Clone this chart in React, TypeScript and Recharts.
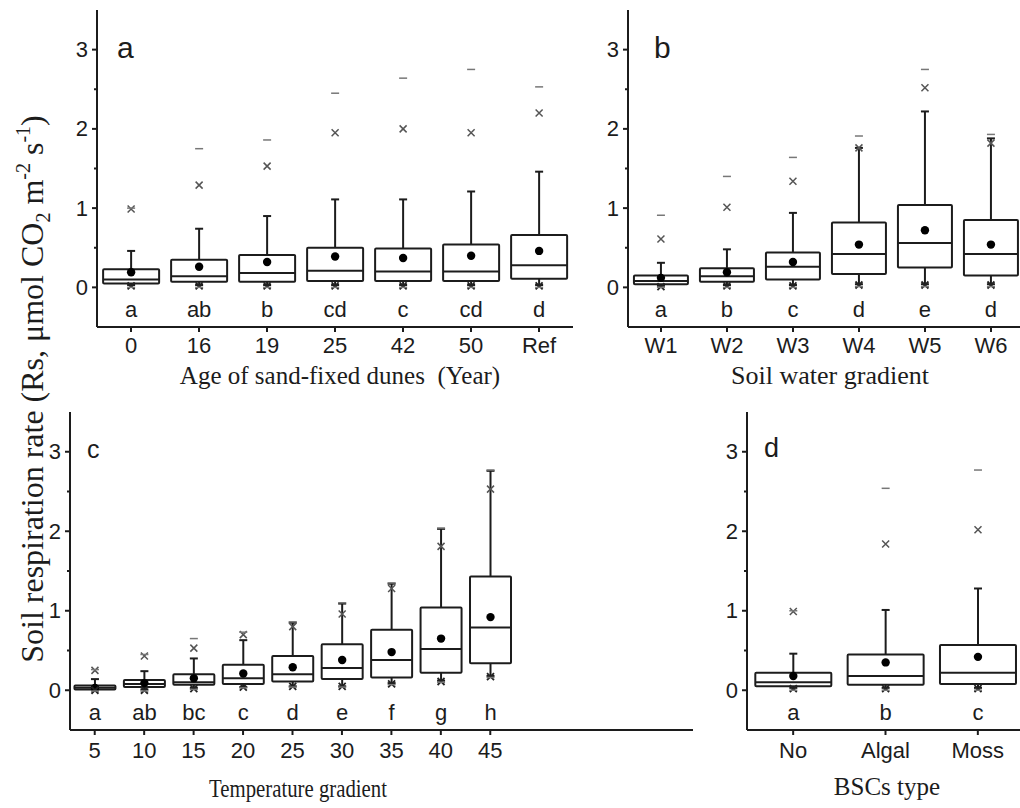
import React from 'react';
import { Bar, BarChart, XAxis, YAxis } from 'recharts';

// a: age of sand-fixed dunes
const ageNames = ['0', '16', '19', '25', '42', '50', 'Ref'];
const ageQ1 = [0.05, 0.07, 0.07, 0.08, 0.08, 0.08, 0.11];
const ageMedian = [0.10, 0.14, 0.18, 0.21, 0.20, 0.20, 0.28];
const ageQ3 = [0.23, 0.35, 0.41, 0.50, 0.49, 0.54, 0.66];
const ageMean = [0.19, 0.26, 0.32, 0.39, 0.37, 0.40, 0.46];
const ageLo = [0.03, 0.03, 0.03, 0.03, 0.03, 0.03, 0.03];
const ageHi = [0.46, 0.74, 0.90, 1.11, 1.11, 1.21, 1.46];
const ageP1 = [0.02, 0.02, 0.02, 0.02, 0.02, 0.02, 0.02];
const ageP99 = [0.99, 1.29, 1.53, 1.95, 2.00, 1.95, 2.20];
const ageMin = [0.0, 0.0, 0.0, 0.0, 0.0, 0.0, 0.0];
const ageMax = [1.00, 1.75, 1.86, 2.45, 2.64, 2.75, 2.53];
const ageGroups = ['a', 'ab', 'b', 'cd', 'c', 'cd', 'd'];

// b: soil water gradient
const waterNames = ['W1', 'W2', 'W3', 'W4', 'W5', 'W6'];
const waterQ1 = [0.04, 0.07, 0.10, 0.17, 0.25, 0.15];
const waterMedian = [0.08, 0.14, 0.26, 0.42, 0.56, 0.42];
const waterQ3 = [0.15, 0.24, 0.44, 0.82, 1.04, 0.85];
const waterMean = [0.12, 0.19, 0.32, 0.54, 0.72, 0.54];
const waterLo = [0.02, 0.03, 0.03, 0.04, 0.04, 0.04];
const waterHi = [0.31, 0.48, 0.94, 1.76, 2.22, 1.88];
const waterP1 = [0.01, 0.02, 0.02, 0.03, 0.03, 0.03];
const waterP99 = [0.61, 1.01, 1.34, 1.76, 2.52, 1.82];
const waterMin = [0.0, 0.0, 0.0, 0.01, 0.01, 0.01];
const waterMax = [0.91, 1.40, 1.64, 1.91, 2.75, 1.93];
const waterGroups = ['a', 'b', 'c', 'd', 'e', 'd'];

// c: temperature gradient
const tempNames = ['5', '10', '15', '20', '25', '30', '35', '40', '45'];
const tempQ1 = [0.01, 0.04, 0.07, 0.08, 0.11, 0.14, 0.16, 0.22, 0.34];
const tempMedian = [0.03, 0.08, 0.10, 0.15, 0.20, 0.28, 0.38, 0.52, 0.79];
const tempQ3 = [0.06, 0.13, 0.20, 0.32, 0.43, 0.58, 0.76, 1.04, 1.43];
const tempMean = [0.03, 0.09, 0.15, 0.21, 0.29, 0.38, 0.48, 0.65, 0.92];
const tempLo = [0.0, 0.01, 0.03, 0.04, 0.05, 0.05, 0.09, 0.12, 0.18];
const tempHi = [0.14, 0.24, 0.40, 0.63, 0.85, 1.09, 1.34, 2.03, 2.76];
const tempP1 = [0.0, 0.0, 0.02, 0.04, 0.05, 0.05, 0.08, 0.11, 0.17];
const tempP99 = [0.25, 0.43, 0.53, 0.70, 0.80, 0.96, 1.28, 1.81, 2.53];
const tempMin = [-0.01, -0.01, 0.01, 0.03, 0.04, 0.04, 0.07, 0.10, 0.16];
const tempMax = [0.26, 0.45, 0.65, 0.73, 0.86, 1.10, 1.35, 2.04, 2.77];
const tempGroups = ['a', 'ab', 'bc', 'c', 'd', 'e', 'f', 'g', 'h'];

// d: biological soil crust type
const crustNames = ['No', 'Algal', 'Moss'];
const crustQ1 = [0.05, 0.07, 0.08];
const crustMedian = [0.10, 0.18, 0.22];
const crustQ3 = [0.22, 0.45, 0.57];
const crustMean = [0.18, 0.35, 0.42];
const crustLo = [0.03, 0.03, 0.03];
const crustHi = [0.46, 1.01, 1.28];
const crustP1 = [0.02, 0.02, 0.02];
const crustP99 = [0.99, 1.84, 2.02];
const crustMin = [0.0, 0.0, 0.0];
const crustMax = [1.00, 2.54, 2.77];
const crustGroups = ['a', 'b', 'c'];

const yTicks = [0, 0.5, 1, 1.5, 2, 2.5, 3];

const SANS = "'Liberation Sans', Arial, sans-serif";
const SERIF = "'Liberation Serif', 'Times New Roman', serif";
const INK = '#1c1c1c';

function toRows(
  names: string[], q1: number[], median: number[], q3: number[], mean: number[],
  lo: number[], hi: number[], p1: number[], p99: number[], min: number[], max: number[], groups: string[],
) {
  return names.map((name, i) => ({
    name,
    q1: q1[i],
    median: median[i],
    q3: q3[i],
    mean: mean[i],
    lo: lo[i],
    hi: hi[i],
    p1: p1[i],
    p99: p99[i],
    min: min[i],
    max: max[i],
    group: groups[i],
    range: [min[i], max[i]],
  }));
}

// the bar spans [min, max]; everything else is placed on the same linear mapping
function BoxShape(props: any) {
  const { x, y, width, height, payload: d } = props;
  const top = Math.min(y, y + height);
  const h = Math.abs(height);
  const k = h / (d.max - d.min);
  const Y = (v: number) => top + (d.max - v) * k;
  const cx = x + width / 2;
  const cap = 4;
  const mk = 3.5;
  return (
    <g>
      <line x1={cx} x2={cx} y1={Y(d.q3)} y2={Y(d.hi)} stroke={INK} strokeWidth={2} />
      <line x1={cx - cap} x2={cx + cap} y1={Y(d.hi)} y2={Y(d.hi)} stroke={INK} strokeWidth={2} />
      <line x1={cx} x2={cx} y1={Y(d.q1)} y2={Y(d.lo)} stroke={INK} strokeWidth={2} />
      <line x1={cx - cap} x2={cx + cap} y1={Y(d.lo)} y2={Y(d.lo)} stroke={INK} strokeWidth={2} />
      <rect x={x} y={Y(d.q3)} width={width} height={Y(d.q1) - Y(d.q3)} fill="#fff" stroke={INK} strokeWidth={2} rx={1} />
      <line x1={x} x2={x + width} y1={Y(d.median)} y2={Y(d.median)} stroke={INK} strokeWidth={2} />
      <circle cx={cx} cy={Y(d.mean)} r={4.2} fill="#000" />
      <path
        d={`M${cx - mk},${Y(d.p99) - mk}L${cx + mk},${Y(d.p99) + mk}M${cx - mk},${Y(d.p99) + mk}L${cx + mk},${Y(d.p99) - mk}`}
        stroke="#555" strokeWidth={1.5}
      />
      <path
        d={`M${cx - mk},${Y(d.p1) - mk}L${cx + mk},${Y(d.p1) + mk}M${cx - mk},${Y(d.p1) + mk}L${cx + mk},${Y(d.p1) - mk}`}
        stroke="#222" strokeWidth={1.8}
      />
      <line x1={cx - 4} x2={cx + 4} y1={Y(d.max)} y2={Y(d.max)} stroke="#777" strokeWidth={1.5} />
      <line x1={cx - 4} x2={cx + 4} y1={Y(d.min)} y2={Y(d.min)} stroke="#777" strokeWidth={1.5} />
      <text x={cx} y={Y(-0.28)} textAnchor="middle" dominantBaseline="central" fontSize={22} fontFamily={SANS} fill={INK}>
        {d.group}
      </text>
    </g>
  );
}

function YTick(props: any) {
  const { x, y, payload } = props;
  const major = Number.isInteger(payload.value);
  return (
    <g>
      <line x1={x - (major ? 5 : 3)} x2={x} y1={y} y2={y} stroke={INK} strokeWidth={2} />
      {major && (
        <text x={x - 9} y={y} textAnchor="end" dominantBaseline="central" fontSize={22} fontFamily={SANS} fill={INK}>
          {payload.value}
        </text>
      )}
    </g>
  );
}

const Y_AXIS_W = 50;

type PanelProps = {
  rows: any[];
  axisX: number;
  plotRight: number;
  plotTop: number;
  plotBottom: number;
  padRight?: number;
  tickGap: number;
};

function Panel({ rows, axisX, plotRight, plotTop, plotBottom, padRight = 0, tickGap }: PanelProps) {
  const width = plotRight - axisX + Y_AXIS_W;
  const height = plotBottom - plotTop + 10 + 40;
  return (
    <div style={{ position: 'absolute', left: axisX - Y_AXIS_W, top: plotTop - 10 }}>
      <BarChart
        width={width}
        height={height}
        data={rows}
        margin={{ top: 10, right: 0, left: 0, bottom: 0 }}
        barCategoryGap="9%"
      >
        <XAxis
          dataKey="name"
          interval={0}
          height={40}
          stroke={INK}
          strokeWidth={2}
          tickSize={5}
          tickMargin={tickGap}
          padding={{ left: 0, right: padRight }}
          tick={{ fontSize: 22, fill: INK, fontFamily: SANS }}
        />
        <YAxis
          type="number"
          domain={[-0.5, 3.5]}
          allowDataOverflow
          ticks={yTicks}
          interval={0}
          width={Y_AXIS_W}
          stroke={INK}
          strokeWidth={2}
          tickLine={false}
          tickSize={0}
          tickMargin={0}
          tick={<YTick />}
        />
        <Bar dataKey="range" shape={<BoxShape />} isAnimationActive={false} />
      </BarChart>
    </div>
  );
}

const ageRows = toRows(ageNames, ageQ1, ageMedian, ageQ3, ageMean, ageLo, ageHi, ageP1, ageP99, ageMin, ageMax, ageGroups);
const waterRows = toRows(waterNames, waterQ1, waterMedian, waterQ3, waterMean, waterLo, waterHi, waterP1, waterP99, waterMin, waterMax, waterGroups);
const tempRows = toRows(tempNames, tempQ1, tempMedian, tempQ3, tempMean, tempLo, tempHi, tempP1, tempP99, tempMin, tempMax, tempGroups);
const crustRows = toRows(crustNames, crustQ1, crustMedian, crustQ3, crustMean, crustLo, crustHi, crustP1, crustP99, crustMin, crustMax, crustGroups);

export default function App() {
  return (
    <div style={{ position: 'absolute', left: 0, top: 0, width: 1020, height: 808, overflow: 'hidden', background: '#fff' }}>
      <Panel rows={ageRows} axisX={97} plotRight={573} plotTop={10} plotBottom={327} tickGap={5} />
      <Panel rows={waterRows} axisX={628} plotRight={1024} plotTop={10} plotBottom={327} tickGap={5} />
      <Panel rows={tempRows} axisX={70} plotRight={693} plotTop={412} plotBottom={730} padRight={178} tickGap={7} />
      <Panel rows={crustRows} axisX={747} plotRight={1024} plotTop={412} plotBottom={730} tickGap={7} />

      <svg width={1020} height={808} style={{ position: 'absolute', left: 0, top: 0, pointerEvents: 'none' }}>
        <text transform="translate(43,389) rotate(-90)" textAnchor="middle" fontSize={32} fontFamily={SERIF} fill={INK}>
          Soil respiration rate (Rs, μmol CO
          <tspan fontSize={20} dy={7}>2</tspan>
          <tspan dy={-7}> m</tspan>
          <tspan fontSize={20} dy={-13}>-2</tspan>
          <tspan dy={13}> s</tspan>
          <tspan fontSize={20} dy={-13}>-1</tspan>
          <tspan dy={13}>)</tspan>
        </text>

        <text x={340} y={384} textAnchor="middle" fontSize={25} fontFamily={SERIF} fill={INK}>
          Age of sand-fixed dunes{'\u00a0'} (Year)
        </text>
        <text x={830} y={384} textAnchor="middle" fontSize={26} fontFamily={SERIF} fill={INK}>
          Soil water gradient
        </text>
        <text
          x={298} y={797} textAnchor="middle" fontSize={26} fontFamily={SERIF} fill={INK}
          textLength={178} lengthAdjust="spacingAndGlyphs"
        >
          Temperature gradient
        </text>
        <text x={887} y={795} textAnchor="middle" fontSize={25} fontFamily={SERIF} fill={INK}>
          BSCs type
        </text>

        <text x={117} y={58} fontSize={30} fontFamily={SANS} fill={INK}>a</text>
        <text x={654} y={58} fontSize={30} fontFamily={SANS} fill={INK}>b</text>
        <text x={87} y={458} fontSize={25} fontFamily={SANS} fill={INK}>c</text>
        <text x={764} y={457} fontSize={27} fontFamily={SANS} fill={INK}>d</text>
      </svg>
    </div>
  );
}
